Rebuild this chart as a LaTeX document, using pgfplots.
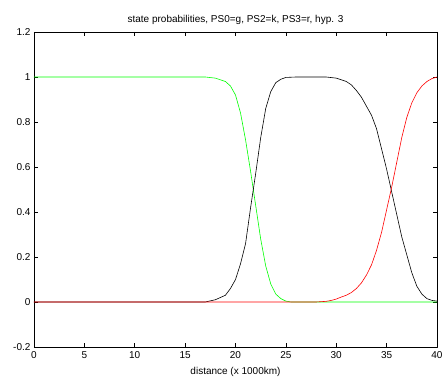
\documentclass[border=0pt]{standalone}
\usepackage{fontspec}
\setmainfont{Liberation Sans}
\usepackage{pgfplots}
\pgfplotsset{compat=1.18}
\begin{document}
\begin{tikzpicture}
\begin{axis}[name=ax, scale only axis, width=403pt, height=315pt,
  xmin=0, xmax=40, ymin=-0.2, ymax=1.2,
  xtick={0,5,10,15,20,25,30,35,40},
  xticklabels={0,5,10,15,20,25,30,35,40},
  ytick={-0.2,0,0.2,0.4,0.6,0.8,1,1.2},
  yticklabels={-0.2,0,0.2,0.4,0.6,0.8,1,1.2},
  xtick pos=both, ytick pos=both, tick align=inside,
  major tick length=4pt,
  tick style={black, line width=0.5pt},
  axis line style={black, line width=0.6pt},
  every tick label/.append style={font=\fontsize{10}{12}\selectfont},
  xticklabel style={yshift=-1pt},
  title={state probabilities, PS0=g, PS2=k, PS3=r, hyp. 3},
  title style={font=\fontsize{10}{12}\selectfont, at={(0.5,1)}, anchor=south, yshift=-2pt},
  xlabel={distance (x 1000km)},
  xlabel style={font=\fontsize{10}{12}\selectfont, yshift=-2pt},
  line join=round,
]
\addplot[color={rgb,255:red,0;green,255;blue,0}, line width=0.6pt] coordinates {
(0,1) (17,1) (18,0.995) (19,0.98) (19.5,0.96) (20,0.92) (20.5,0.84) (21,0.72)
(21.5,0.58) (22,0.43) (22.5,0.28) (23,0.16) (23.5,0.08) (24,0.035) (24.5,0.015)
(25,0.004) (25.5,0) (40,0)};
\addplot[black, line width=0.6pt] coordinates {
(0,0) (17,0) (18,0.01) (19,0.03) (19.5,0.06) (20,0.10) (20.5,0.17) (21,0.26)
(21.5,0.42) (22,0.57) (22.5,0.73) (23,0.86) (23.5,0.935) (24,0.975) (24.5,0.99)
(25,0.998) (26,1) (29,1) (30,0.995) (31,0.98) (31.5,0.965) (32,0.94) (32.5,0.91)
(33,0.87) (33.5,0.83) (34,0.77) (34.5,0.68) (35,0.59) (35.5,0.49) (36,0.39)
(36.5,0.29) (37,0.21) (37.5,0.13) (38,0.07) (38.5,0.035) (39,0.015) (39.5,0.007) (40,0.004)};
\addplot[color={rgb,255:red,255;green,0;blue,0}, line width=0.6pt] coordinates {
(0,0) (28,0) (29,0.003) (29.5,0.007) (30,0.013) (30.5,0.022) (31,0.03) (31.5,0.042)
(32,0.06) (32.5,0.085) (33,0.12) (33.5,0.165) (34,0.23) (34.5,0.31) (35,0.41)
(35.5,0.51) (36,0.62) (36.5,0.73) (37,0.82) (37.5,0.885) (38,0.93) (38.5,0.96)
(39,0.98) (39.5,0.993) (40,1)};
\end{axis}
\pgfresetboundingbox
\path ([shift={(-34pt,-31pt)}]ax.south west) rectangle ([shift={(5pt,32pt)}]ax.north east);
\end{tikzpicture}
\end{document}
